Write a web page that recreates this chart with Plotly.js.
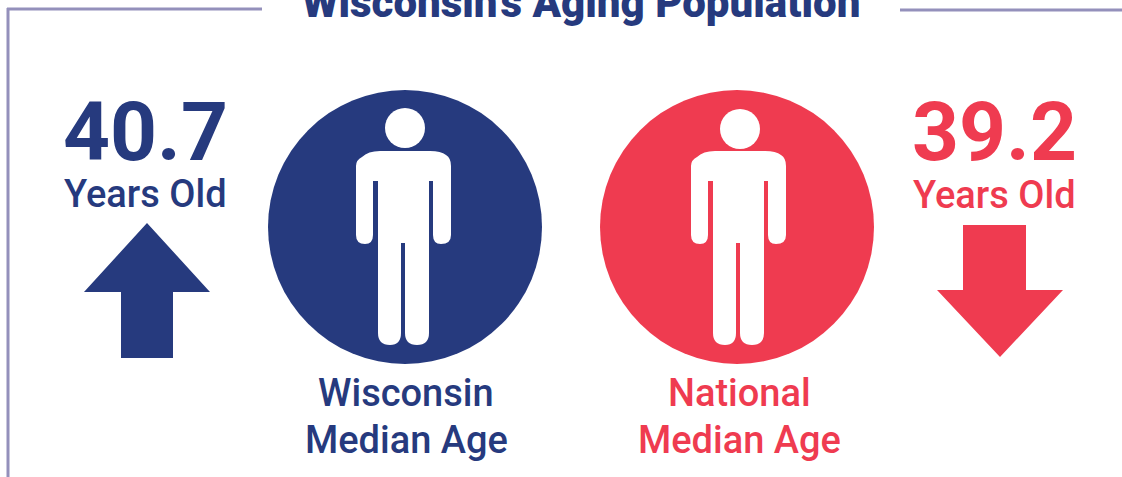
<!DOCTYPE html>
<html><head><meta charset="utf-8">
<script src="https://cdn.plot.ly/plotly-3.0.1.min.js"></script>
<style>html,body{margin:0;padding:0;background:#fff;overflow:hidden}#c{width:1122px;height:477px}</style>
</head><body><div id="c"></div>
<script>
const chartTitle = "Wisconsin's Aging Population";
const medianAges = ["40.7", "39.2"];
const yearsLabels = ["Years Old", "Years Old"];
const placeLabels = ["Wisconsin", "National"];
const ageLabels = ["Median Age", "Median Age"];
const colors = ["#263a7e", "#ef3b50"];
const frameColor = "#9490bb";

const W = 1122, H = 477;
function person(dx){
  const p = (x,y)=>(x+dx)+","+y;
  return "M"+p(356,166)+" Q"+p(356,160)+" "+p(362,157)+" Q"+p(368,151)+" "+p(380,151)+
   " L"+p(430,151)+" Q"+p(441,151)+" "+p(446,155)+" Q"+p(451,158)+" "+p(451,166)+
   " L"+p(451,235)+" Q"+p(451,244)+" "+p(441,244)+" Q"+p(433,244)+" "+p(433,235)+
   " L"+p(433,181)+" L"+p(429,181)+" L"+p(429,333)+" Q"+p(429,345)+" "+p(417,345)+
   " Q"+p(405,345)+" "+p(405,333)+" L"+p(405,243)+" L"+p(401,243)+" L"+p(401,333)+
   " Q"+p(401,345)+" "+p(390,345)+" Q"+p(378,345)+" "+p(378,333)+" L"+p(378,181)+
   " L"+p(373,181)+" L"+p(373,235)+" Q"+p(373,244)+" "+p(365,244)+" Q"+p(356,244)+" "+p(356,235)+" Z";
}
function circle(cx,cy,r,c){return {type:"circle",x0:cx-r,x1:cx+r,y0:cy-r,y1:cy+r,fillcolor:c,line:{width:0},layer:"below"};}
function poly(pts,c){return {type:"path",path:"M"+pts.map(a=>a.join(",")).join(" L")+" Z",fillcolor:c,line:{width:0}};}
function line(x0,y0,x1,y1){return {type:"line",x0,y0,x1,y1,line:{color:frameColor,width:3}};}

const shapes = [
  line(7,9,262,9), line(8,8,8,477), line(900,10,1122,10),
  circle(405,227,137,colors[0]), circle(737,227,137,colors[1]),
  {type:"circle",x0:385,x1:425,y0:108,y1:148,fillcolor:"#fff",line:{width:0}},
  {type:"circle",x0:720,x1:760,y0:109,y1:149,fillcolor:"#fff",line:{width:0}},
  {type:"path",path:person(0),fillcolor:"#fff",line:{width:0}},
  {type:"path",path:person(335),fillcolor:"#fff",line:{width:0}},
  poly([[147,223],[210,292],[173,292],[173,358],[121,358],[121,292],[84,292]],colors[0]),
  poly([[1000,357],[937,290],[963,290],[963,225],[1026,225],[1026,290],[1063,290]],colors[1])
];
function txt(t,x,y,size,color,weight){
  return {text:t,x,y,xref:"x",yref:"y",showarrow:false,xanchor:"center",yanchor:"middle",
    font:{family:"Roboto",size,color,weight}};
}
const annotations = [
  txt(chartTitle,581,2,42,colors[0],900),
  txt(medianAges[0],145,132,82,colors[0],700),
  txt(medianAges[1],994,132,82,colors[1],700),
  txt(yearsLabels[0],145,194,38,colors[0],500),
  txt(yearsLabels[1],994,195,38,colors[1],500),
  txt(placeLabels[0],406,393,38,colors[0],500),
  txt(ageLabels[0],406,440,38,colors[0],500),
  txt(placeLabels[1],739,393,38,colors[1],500),
  txt(ageLabels[1],739,440,38,colors[1],500)
];
Plotly.newPlot("c",[{x:[0,W],y:[0,H],mode:"markers",marker:{opacity:0},hoverinfo:"skip",showlegend:false}],{
  width:W,height:H,margin:{l:0,r:0,t:0,b:0},paper_bgcolor:"#fff",plot_bgcolor:"#fff",
  xaxis:{range:[0,W],visible:false,fixedrange:true},
  yaxis:{range:[H,0],visible:false,fixedrange:true},
  shapes,annotations
},{displayModeBar:false,staticPlot:true});
</script></body></html>
